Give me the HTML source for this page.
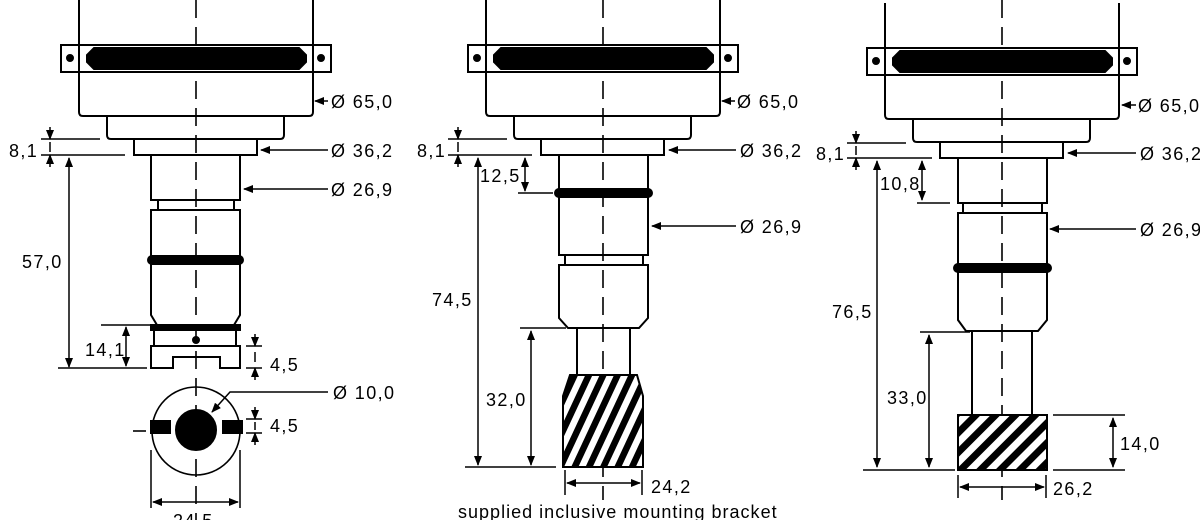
<!DOCTYPE html>
<html><head><meta charset="utf-8"><style>
html,body{margin:0;padding:0;background:#fff}
svg{display:block}
text{font-family:"Liberation Sans",sans-serif;font-size:18px;letter-spacing:1.4px;fill:#000}
</style></head><body>
<svg width="1200" height="520" viewBox="0 0 1200 520" xmlns="http://www.w3.org/2000/svg">
<defs>
<marker id="a" markerUnits="userSpaceOnUse" markerWidth="10" markerHeight="8" refX="9" refY="4" orient="auto-start-reverse"><path d="M0,0 L10,4 L0,8 Z" fill="#000"/></marker>
<pattern id="h" patternUnits="userSpaceOnUse" width="13" height="13" patternTransform="rotate(25)"><rect width="13" height="13" fill="#fff"/><rect width="6.5" height="13" fill="#000"/></pattern>
<pattern id="h2" patternUnits="userSpaceOnUse" width="14" height="14" patternTransform="rotate(45)"><rect width="14" height="14" fill="#fff"/><rect width="7" height="14" fill="#000"/></pattern>
<g id="top" fill="none" stroke="#000" stroke-width="2">
<rect x="61" y="45" width="270" height="27" fill="#fff"/>
<path d="M79,0 V112 Q79,116 83,116 H309 Q313,116 313,112 V0"/>
<polygon points="94,48 299,48 306,55 306,62 299,69 94,69 87,62 87,55" fill="#000"/>
<circle cx="70" cy="58" r="3" fill="#000"/><circle cx="321" cy="58" r="3" fill="#000"/>
<path d="M107,116 V135 Q107,139 111,139 H280 Q284,139 284,135 V116"/>
<rect x="134" y="139" width="123" height="16"/>
</g>
</defs>
<g stroke="#000" stroke-width="2" fill="none">
<path d="M196,0 V520 M603,0 V500 M1002,0 V500" stroke-width="1.6" stroke-dasharray="18,9"/>
<use href="#top"/>
<use href="#top" x="407"/>
<use href="#top" x="806" y="3"/>

<!-- PART 1 -->
<path d="M151,155 V200 H240 V155"/>
<path d="M158,200 V210 M234,200 V210"/>
<path d="M151,210 H240 V315 L234,325 H157 L151,315 Z"/>
<rect x="148" y="256" width="95" height="8" rx="4" fill="#000"/>
<rect x="151" y="325" width="89" height="5" fill="#000"/>
<rect x="154" y="330" width="82" height="16"/>
<circle cx="196" cy="340" r="3" fill="#000"/>
<path d="M151,346 H240 V368 H220 V357 H173 V368 H151 Z"/>
<g stroke-width="1.5">
<path d="M41,139 H100 M41,155 H125 M50,142 V152"/>
<path d="M50,127 V139" marker-end="url(#a)"/>
<path d="M50,167 V155" marker-end="url(#a)"/>
<path d="M69,158 V367" marker-start="url(#a)" marker-end="url(#a)"/>
<path d="M58,368 H147 M101,325 H150"/>
<path d="M126,327 V366" marker-start="url(#a)" marker-end="url(#a)"/>
<path d="M328,101 H315" marker-end="url(#a)"/>
<path d="M328,150 H261" marker-end="url(#a)"/>
<path d="M328,189 H244" marker-end="url(#a)"/>
<path d="M255,334 V346" marker-end="url(#a)"/>
<path d="M255,380 V368" marker-end="url(#a)"/>
<path d="M255,407 V419" marker-end="url(#a)"/>
<path d="M255,445 V433" marker-end="url(#a)"/>
<path d="M246,346 H262 M246,368 H262 M246,419 H262 M246,433 H262 M255,352 V362 M255,422 V430"/>
</g>
<circle cx="196" cy="431" r="44" stroke-width="1.6"/>
<path d="M133,431 H146" stroke-width="1.6"/>
<circle cx="196" cy="430" r="20" fill="#000"/>
<rect x="151" y="421" width="19" height="12" fill="#000"/>
<rect x="223" y="421" width="19" height="12" fill="#000"/>
<g stroke-width="1.5">
<path d="M328,392 H230 L212,412" marker-end="url(#a)"/>
<path d="M151,450 V508 M240,450 V508"/>
<path d="M153,502 H238" marker-start="url(#a)" marker-end="url(#a)"/>
</g>

<!-- PART 2 -->
<path d="M559,155 V255 H648 V155"/>
<rect x="555" y="189" width="97" height="8" rx="4" fill="#000"/>
<path d="M565,255 V265 M643,255 V265"/>
<path d="M559,265 H648 V318 L639,328 H568 L559,318 Z"/>
<path d="M577,328 V375 M630,328 V375"/>
<path d="M570,375 H637 L643,396 V467 H563 V396 Z" fill="url(#h)"/>
<g stroke-width="1.5">
<path d="M448,139 H507 M448,155 H532 M458,142 V152"/>
<path d="M458,127 V139" marker-end="url(#a)"/>
<path d="M458,167 V155" marker-end="url(#a)"/>
<path d="M525,158 V191" marker-start="url(#a)" marker-end="url(#a)"/>
<path d="M518,193 H553 M520,328 H566 M465,467 H556"/>
<path d="M478,158 V465" marker-start="url(#a)" marker-end="url(#a)"/>
<path d="M531,331 V465" marker-start="url(#a)" marker-end="url(#a)"/>
<path d="M565,470 V495 M642,470 V495"/>
<path d="M567,483 H640" marker-start="url(#a)" marker-end="url(#a)"/>
<path d="M735,101 H722" marker-end="url(#a)"/>
<path d="M736,150 H669" marker-end="url(#a)"/>
<path d="M736,226 H652" marker-end="url(#a)"/>
</g>

<!-- PART 3 -->
<path d="M958,158 V203 H1047 V158"/>
<path d="M963,203 V213 M1042,203 V213"/>
<path d="M958,213 H1047 V320 L1038,331 H966 L958,320 Z"/>
<rect x="954" y="264" width="97" height="8" rx="4" fill="#000"/>
<path d="M972,331 V415 M1032,331 V415"/>
<rect x="958" y="415" width="89" height="55" fill="url(#h2)"/>
<g stroke-width="1.5">
<path d="M847,143 H906 M847,158 H932 M856,146 V155"/>
<path d="M856,131 V143" marker-end="url(#a)"/>
<path d="M856,170 V158" marker-end="url(#a)"/>
<path d="M922,161 V200" marker-start="url(#a)" marker-end="url(#a)"/>
<path d="M917,203 H950 M920,332 H970 M863,470 H955"/>
<path d="M877,161 V467" marker-start="url(#a)" marker-end="url(#a)"/>
<path d="M929,335 V467" marker-start="url(#a)" marker-end="url(#a)"/>
<path d="M1053,415 H1125 M1053,470 H1125"/>
<path d="M1113,418 V467" marker-start="url(#a)" marker-end="url(#a)"/>
<path d="M958,475 V498 M1046,475 V498"/>
<path d="M960,487 H1044" marker-start="url(#a)" marker-end="url(#a)"/>
<path d="M1136,105 H1122" marker-end="url(#a)"/>
<path d="M1136,153 H1068" marker-end="url(#a)"/>
<path d="M1136,229 H1050" marker-end="url(#a)"/>
</g>
</g>
<g>
<text x="331" y="108">Ø 65,0</text>
<text x="331" y="157">Ø 36,2</text>
<text x="331" y="196">Ø 26,9</text>
<text x="9" y="157">8,1</text>
<text x="22" y="268">57,0</text>
<text x="85" y="356">14,1</text>
<text x="270" y="371">4,5</text>
<text x="270" y="432">4,5</text>
<text x="333" y="399">Ø 10,0</text>
<text x="173" y="527">24,5</text>

<text x="737" y="108">Ø 65,0</text>
<text x="740" y="157">Ø 36,2</text>
<text x="740" y="233">Ø 26,9</text>
<text x="417" y="157">8,1</text>
<text x="480" y="182">12,5</text>
<text x="432" y="306">74,5</text>
<text x="486" y="406">32,0</text>
<text x="651" y="493">24,2</text>
<text x="458" y="518" textLength="320" lengthAdjust="spacing">supplied inclusive mounting bracket</text>

<text x="1138" y="112">Ø 65,0</text>
<text x="1140" y="160">Ø 36,2</text>
<text x="1140" y="236">Ø 26,9</text>
<text x="816" y="160">8,1</text>
<text x="880" y="190">10,8</text>
<text x="832" y="318">76,5</text>
<text x="887" y="404">33,0</text>
<text x="1120" y="450">14,0</text>
<text x="1053" y="495">26,2</text>
</g>
</svg>
</body></html>
